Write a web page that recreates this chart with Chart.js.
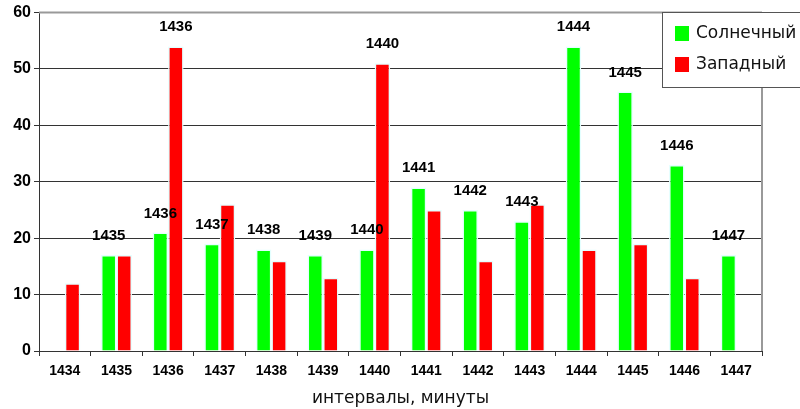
<!DOCTYPE html>
<html>
<head>
<meta charset="utf-8">
<script src="https://cdn.jsdelivr.net/npm/chart.js@4.4.0/dist/chart.umd.min.js"></script>
<style>
  html, body { margin: 0; padding: 0; background: #fff; }
  #wrap { width: 800px; height: 409px; }
</style>
</head>
<body>
<div id="wrap"><canvas id="intervalChart" width="800" height="409"></canvas></div>
<script>
const categories = ['1434', '1435', '1436', '1437', '1438', '1439', '1440',
                    '1441', '1442', '1443', '1444', '1445', '1446', '1447'];
const solar = [0, 17, 21, 19, 18, 17, 18, 29, 25, 23, 54, 46, 33, 17];
const western = [12, 17, 54, 26, 16, 13, 51, 25, 16, 26, 18, 19, 13, 0];
const seriesNames = ['Солнечный', 'Западный'];
const seriesColors = ['#00ff00', '#ff0000'];
const yTicks = [0, 10, 20, 30, 40, 50, 60];
// only these red bars carry a label in the original
const labelledWestern = ['1436', '1440'];
const axisTitle = 'интервалы, минуты';

const boldFont = '"Liberation Sans", Arial, sans-serif';
const plainFont = '"DejaVu Sans", Verdana, sans-serif';

// gray frame on top and right of the plot
const plotFrame = {
  id: 'plotFrame',
  beforeDatasetsDraw(chart) {
    const { ctx, chartArea: a } = chart;
    ctx.save();
    ctx.strokeStyle = '#999';
    ctx.lineWidth = 2;
    ctx.beginPath();
    ctx.moveTo(a.left, a.top);
    ctx.lineTo(a.right, a.top);
    ctx.moveTo(a.right, a.top);
    ctx.lineTo(a.right, a.bottom);
    ctx.stroke();
    ctx.restore();
  }
};

// category names written above the bars
const barLabels = {
  id: 'barLabels',
  afterDatasetsDraw(chart) {
    const ctx = chart.ctx;
    ctx.save();
    ctx.font = 'bold 15px ' + boldFont;
    ctx.fillStyle = '#000';
    ctx.textAlign = 'center';
    ctx.textBaseline = 'alphabetic';
    chart.data.datasets.forEach((ds, i) => {
      chart.getDatasetMeta(i).data.forEach((bar, j) => {
        const cat = categories[j];
        const show = i === 0 ? solar[j] > 0 : labelledWestern.includes(cat);
        if (show) ctx.fillText(cat, bar.x, bar.y - 15);
      });
    });
    ctx.restore();
  }
};

// boxed legend in the top right corner, overlapping the frame
const boxLegend = {
  id: 'boxLegend',
  afterDraw(chart) {
    const ctx = chart.ctx;
    ctx.save();
    ctx.fillStyle = '#fff';
    ctx.fillRect(662, 12, 150, 75);
    ctx.strokeStyle = '#555';
    ctx.lineWidth = 1;
    ctx.strokeRect(662.5, 12.5, 150, 75);
    ctx.font = '17px ' + plainFont;
    ctx.textBaseline = 'middle';
    chart.data.datasets.forEach((ds, i) => {
      const y = 26 + i * 31;
      ctx.fillStyle = ds.backgroundColor;
      ctx.fillRect(675, y, 14, 15);
      ctx.fillStyle = '#111';
      ctx.fillText(ds.label, 696, y + 8);
    });
    ctx.restore();
  }
};

new Chart(document.getElementById('intervalChart'), {
  type: 'bar',
  data: {
    labels: categories,
    datasets: [
      { label: seriesNames[0], data: solar, backgroundColor: seriesColors[0] },
      { label: seriesNames[1], data: western, backgroundColor: seriesColors[1] }
    ]
  },
  options: {
    responsive: false,
    animation: false,
    layout: { padding: { top: 12, right: 38, left: 0, bottom: 0 } },
    datasets: {
      bar: {
        categoryPercentage: 0.6,
        barPercentage: 1.0,
        borderWidth: 1.5,
        borderColor: '#e4ffff',
        borderSkipped: 'start'
      }
    },
    plugins: {
      legend: { display: false },
      tooltip: { enabled: false }
    },
    scales: {
      x: {
        afterFit(scale) { scale.height = 58; },
        grid: { drawOnChartArea: false, tickLength: 5, color: '#333', offset: true },
        border: { color: '#333', width: 1 },
        ticks: {
          color: '#000',
          padding: 7,
          maxRotation: 0,
          font: { family: boldFont, size: 14, weight: 'bold' }
        },
        title: {
          display: true,
          text: axisTitle,
          color: '#111',
          padding: { top: 0, bottom: 0 },
          font: { family: plainFont, size: 17 }
        }
      },
      y: {
        min: yTicks[0],
        max: yTicks[yTicks.length - 1],
        afterFit(scale) { scale.width = 39; },
        afterBuildTicks(scale) { scale.ticks = yTicks.map(v => ({ value: v })); },
        grid: { color: '#333', tickLength: 5 },
        border: { color: '#333', width: 1 },
        ticks: {
          color: '#000',
          padding: 3,
          font: { family: boldFont, size: 16, weight: 'bold' }
        }
      }
    }
  },
  plugins: [plotFrame, barLabels, boxLegend]
});
</script>
</body>
</html>
